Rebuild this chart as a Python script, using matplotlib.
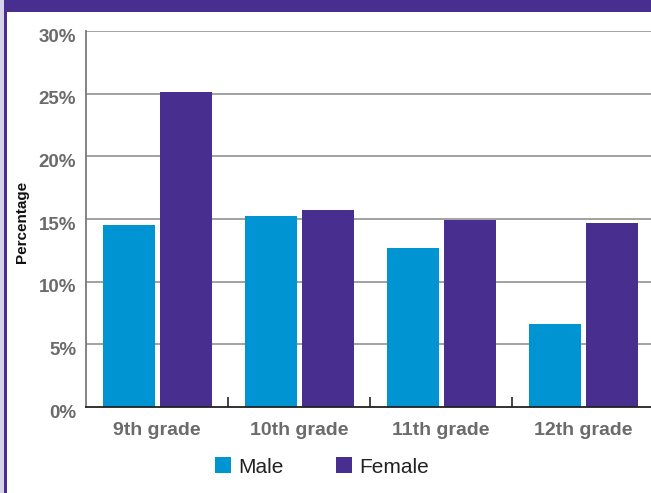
import matplotlib
matplotlib.use("Agg")
import matplotlib.pyplot as plt
import matplotlib.transforms as mtransforms
from matplotlib.patches import Rectangle
import numpy as np

categories = ["9th grade", "10th grade", "11th grade", "12th grade"]
male = [14.5, 15.2, 12.7, 6.6]
female = [25.1, 15.7, 14.9, 14.7]
yticks = [0, 5, 10, 15, 20, 25, 30]
ytick_labels = ["0%", "5%", "10%", "15%", "20%", "25%", "30%"]

BLUE = "#0094d2"
PURPLE = "#482f8f"
GRAY_TXT = "#6b6b6b"

plt.rcParams["font.family"] = ["Liberation Sans", "DejaVu Sans"]

W, H = 651, 493
fig = plt.figure(figsize=(W / 100, H / 100), dpi=100)
fig.patch.set_facecolor("white")

# frame decorations
fig.patches.append(Rectangle((0, 1 - 12 / H), 1, 12 / H, transform=fig.transFigure,
                             facecolor=PURPLE, edgecolor="none", zorder=0))
fig.patches.append(Rectangle((0, 0), 4 / W, 1, transform=fig.transFigure,
                             facecolor="#d9d3ea", edgecolor="none", zorder=0))
fig.patches.append(Rectangle((4 / W, 0), 3 / W, 1, transform=fig.transFigure,
                             facecolor=PURPLE, edgecolor="none", zorder=0))

left, right = 86 / W, 654 / W
bottom, top = (H - 407) / H, (H - 31) / H
ax = fig.add_axes([left, bottom, right - left, top - bottom])

x = np.arange(len(categories))
bw = 0.366
ax.bar(x - 0.199, male, width=bw, color=BLUE, zorder=3, label="Male")
ax.bar(x + 0.203, female, width=bw, color=PURPLE, zorder=3, label="Female")

ax.set_xlim(-0.5, 3.5)
ax.set_ylim(0, 30)
ax.set_yticks(yticks)
ax.set_yticklabels(ytick_labels)
for t in yticks[1:]:
    ax.axhline(t, color="#9a9a9a", lw=1.3, zorder=1)

for s in ["top", "right"]:
    ax.spines[s].set_visible(False)
ax.spines["left"].set_color("#7a7a7a")
ax.spines["left"].set_linewidth(1.3)
ax.spines["bottom"].set_color("#222222")
ax.spines["bottom"].set_linewidth(1.3)
ax.spines["bottom"].set_zorder(4)

ax.tick_params(axis="y", length=0, pad=7, labelsize=13.5, labelcolor=GRAY_TXT)
for lab in ax.get_yticklabels():
    lab.set_fontweight("bold")
    lab.set_transform(lab.get_transform() + mtransforms.ScaledTranslation(0, -4 / 100, fig.dpi_scale_trans))

ax.set_xticks([0.5, 1.5, 2.5])
ax.set_xticklabels([])
ax.tick_params(axis="x", which="major", direction="in", length=7, width=1.2, color="#222222")
ax.set_xticks(x, minor=True)
ax.set_xticklabels(categories, minor=True)
ax.tick_params(axis="x", which="minor", length=0, pad=10.5, labelsize=14, labelcolor=GRAY_TXT)
for lab in ax.get_xticklabels(minor=True):
    lab.set_fontweight("bold")

fig.text(22 / W, (H - 222) / H, "Percentage", rotation=90, ha="center", va="center",
         fontsize=11, fontweight="bold", color="#111111")

leg = fig.legend(loc="center", bbox_to_anchor=(322 / W, 1 - 467 / H), ncol=2, frameon=False,
                 fontsize=15, handlelength=0.77, handleheight=0.77, handletextpad=0.35,
                 columnspacing=2.5)
for t in leg.get_texts():
    t.set_color("#222222")

fig.savefig("out.png", dpi=100)
